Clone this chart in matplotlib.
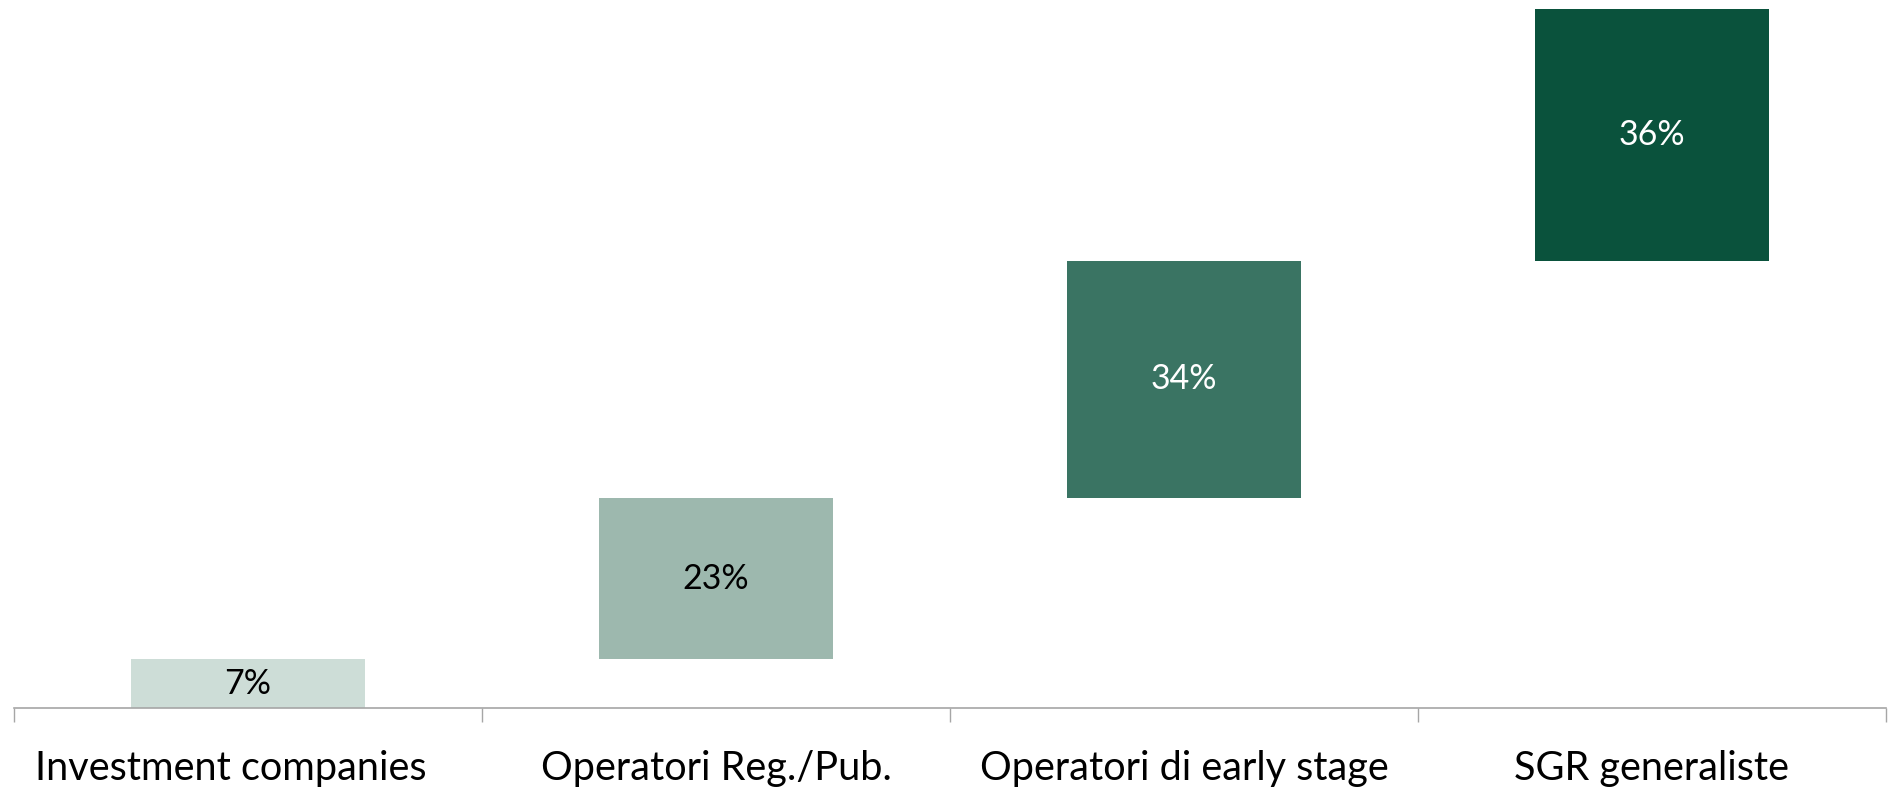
import matplotlib.pyplot as plt
import matplotlib.transforms as mtransforms
import numpy as np

categories = ["Investment companies", "Operatori Reg./Pub.", "Operatori di early stage", "SGR generaliste"]
values = [7, 23, 34, 36]
colors = ["#CDDDD7", "#9DB8AE", "#3A7463", "#0A523C"]
text_colors = ["black", "black", "white", "white"]

plt.rcParams["font.family"] = ["Lato", "DejaVu Sans"]

W, H = 1891, 789
fig = plt.figure(figsize=(W / 100, H / 100), dpi=100)
ax = fig.add_axes([14 / W, (H - 708) / H, (1886 - 14) / W, (708 - 9) / H])

x = np.arange(len(values))
bottoms = np.concatenate([[0], np.cumsum(values)[:-1]])
ax.bar(x, values, bottom=bottoms, width=0.5, color=colors)

for xi, b, v, tc in zip(x, bottoms, values, text_colors):
    ax.text(xi, b + v / 2, f"{v}%", ha="center", va="center", fontsize=24.5, color=tc)

ax.set_xlim(-0.5, len(values) - 0.5)
ax.set_ylim(0, 100)
ax.set_yticks([])
for s in ["top", "right", "left"]:
    ax.spines[s].set_visible(False)
ax.spines["bottom"].set_color("#A6A6A6")
ax.spines["bottom"].set_linewidth(1.2)

ax.set_xticks(np.arange(-0.5, len(values)), labels=[])
ax.tick_params(axis="x", which="major", length=10, width=1, color="#A6A6A6")
ax.set_xticks(x, labels=categories, minor=True)
ax.tick_params(axis="x", which="minor", length=0, pad=30, labelsize=28.5)

# first label sits a little left of its slot in the original
lbl = ax.get_xticklabels(minor=True)[0]
lbl.set_transform(lbl.get_transform() + mtransforms.ScaledTranslation(-0.17, 0, fig.dpi_scale_trans))

fig.savefig("out.png", dpi=100)
